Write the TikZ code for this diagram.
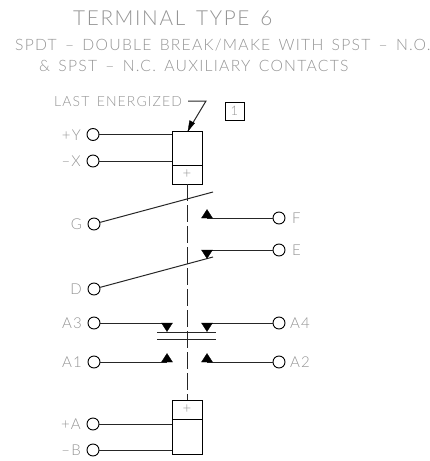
\documentclass[tikz,border=0pt]{standalone}
\usepackage{fontspec}
\setmainfont{Lato Light}[LetterSpace=8,WordSpace=1.5]
\begin{document}
\begin{tikzpicture}[x=1pt,y=-1pt,
  wire/.style={draw=black!85,line width=1pt},
  term/.style={circle,draw=black,line width=0.9pt,minimum size=12pt,inner sep=0pt},
  lab/.style={text=black!42,font=\fontsize{15}{15}\selectfont,inner sep=0pt},
  txt/.style={text=black!42,inner sep=0pt,anchor=west},
  tri/.style={fill=black,draw=black,line width=0.3pt},
  coilbox/.style={draw=black,line width=0.9pt,minimum width=30pt,inner sep=0pt}]
\useasboundingbox (0,0) rectangle (430,461);
\node[txt,font=\fontsize{20.7}{20.7}\selectfont] (title) at (73,18) {TERMINAL TYPE 6};
\node[txt,font=\fontsize{15.7}{15.7}\selectfont] (l2) at (15,45) {SPDT -- DOUBLE BREAK/MAKE WITH SPST -- N.O.};
\node[txt,font=\fontsize{15.7}{15.7}\selectfont] (l3) at (39,66) {\& SPST -- N.C. AUXILIARY CONTACTS};
\node[txt,font=\fontsize{14}{14}\selectfont] (last) at (54,102) {LAST ENERGIZED};
% coils
\node[coilbox,minimum height=34pt] (c1) at (187,148) {};
\node[coilbox,minimum height=19pt] (c1p) at (187,174.5) {};
\node[coilbox,minimum height=19pt] (c2p) at (187,409.5) {};
\node[coilbox,minimum height=35pt] (c2) at (187,436.5) {};
\node[lab] at (c1p) {+};
\node[lab] at (c2p) {+};
\node[draw=black,line width=0.7pt,minimum width=19pt,minimum height=18pt,inner sep=0pt,text=black!42,font=\fontsize{13}{13}\selectfont] (one) at (234.5,111) {1};
% terminals
\node[term] (tY) at (93,134.5) {};
\node[term] (tX) at (93,161) {};
\node[term] (tG) at (94,224) {};
\node[term] (tD) at (94,289) {};
\node[term] (tA3) at (94,323) {};
\node[term] (tA1) at (94,362) {};
\node[term] (tA) at (93,424) {};
\node[term] (tB) at (93,450) {};
\node[term] (tF) at (279,218) {};
\node[term] (tE) at (279,250) {};
\node[term] (tA4) at (279,323) {};
\node[term] (tA2) at (279,362) {};
% labels
\node[lab,anchor=east] at (81,135) {+Y};
\node[lab,anchor=east] at (81,161) {--X};
\node[lab,anchor=east] at (82,224) {G};
\node[lab,anchor=east] at (82,289) {D};
\node[lab,anchor=east] at (82,323) {A3};
\node[lab,anchor=east] at (82,362) {A1};
\node[lab,anchor=east] at (81,424) {+A};
\node[lab,anchor=east] at (81,450) {--B};
\node[lab,anchor=west] at (292,218) {F};
\node[lab,anchor=west] at (292,250) {E};
\node[lab,anchor=west] at (290,323) {A4};
\node[lab,anchor=west] at (290,362) {A2};
% coordinates
\coordinate (k1) at (188,101);
\coordinate (k2) at (206,101);
\coordinate (k3) at (188,131);
\coordinate (gEnd) at (213,192);
\coordinate (dEnd) at (213,257);
\coordinate (tf) at (207,218);
\coordinate (te) at (207,250);
\coordinate (ta3) at (167,323);
\coordinate (ta4) at (207,323);
\coordinate (ta1) at (167,362);
\coordinate (ta2) at (207,362);
% wires
\draw[wire] (tY) -- (tY-|c1.west);
\draw[wire] (tX) -- (tX-|c1.west);
\draw[wire] (tA) -- (tA-|c2.west);
\draw[wire] (tB) -- (tB-|c2.west);
\draw[wire] (tG) -- (gEnd);
\draw[wire] (tD) -- (dEnd);
\draw[wire] (tF) -- (tf);
\draw[wire] (tE) -- (te);
\draw[wire] (tA3) -- (ta3);
\draw[wire] (tA4) -- (ta4);
\draw[wire] (tA1) -- (ta1);
\draw[wire] (tA2) -- (ta2);
% leader
\draw[wire] (k1) -- (k2) -- (k3);
\fill[tri] (k3) -- (189.6,120.5) -- (194.6,123.2) -- cycle;
% triangles
\foreach \c in {tf,ta1,ta2} \filldraw[tri] (\c) ++(-5.5,0) -- ++(11,0) -- ++(-5.5,-8.5) -- cycle;
\foreach \c in {te,ta3,ta4} \filldraw[tri] (\c) ++(-5.5,0) -- ++(11,0) -- ++(-5.5,8.5) -- cycle;
% bars
\draw[wire] (157,332) -- (216,332);
\draw[wire] (157,339) -- (216,339);
% mechanical link
\draw[wire,dash pattern=on 17pt off 4pt] (c1p.south) -- (c2p.north);
\end{tikzpicture}
\end{document}
